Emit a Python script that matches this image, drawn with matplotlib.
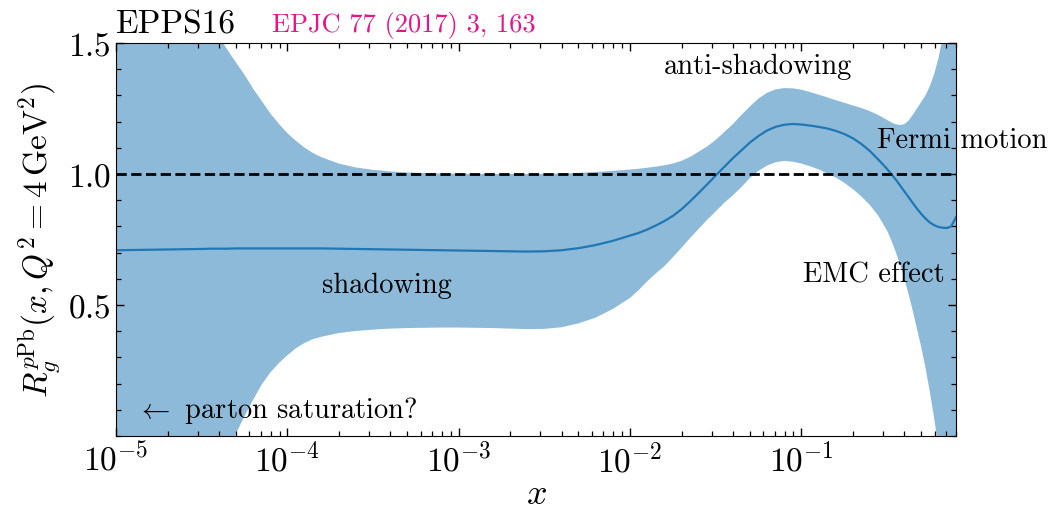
import numpy as np
import matplotlib
matplotlib.use('Agg')
import matplotlib.pyplot as plt
from matplotlib.ticker import MultipleLocator, LogLocator

plt.rcParams['font.family'] = 'serif'
plt.rcParams['font.serif'] = ['cmr10']
plt.rcParams['mathtext.fontset'] = 'cm'
plt.rcParams['axes.formatter.use_mathtext'] = True
plt.rcParams['axes.unicode_minus'] = False

# EPPS16 gluon nuclear modification for Pb at Q^2 = 4 GeV^2 (central + error band)
log_x = [-5.0, -4.9, -4.8, -4.7, -4.6, -4.5, -4.45, -4.4, -4.35, -4.3,
         -4.25, -4.2, -4.15, -4.1, -4.05, -4.0, -3.95, -3.9, -3.85, -3.8,
         -3.7, -3.6, -3.5, -3.4, -3.3, -3.2, -3.1, -3.0, -2.8, -2.6,
         -2.5, -2.4, -2.3, -2.2, -2.1, -2.0, -1.95, -1.9, -1.85, -1.8,
         -1.75, -1.7, -1.65, -1.6, -1.55, -1.5, -1.45, -1.4, -1.35, -1.3,
         -1.25, -1.2, -1.15, -1.1, -1.05, -1.0, -0.95, -0.9, -0.85, -0.8,
         -0.75, -0.7, -0.65, -0.6, -0.55, -0.5, -0.475, -0.45, -0.425, -0.4,
         -0.375, -0.35, -0.325, -0.3, -0.275, -0.25, -0.225, -0.2, -0.175, -0.15,
         -0.125, -0.097]
central = [0.709, 0.710, 0.711, 0.712, 0.713, 0.714, 0.715, 0.715, 0.715, 0.716,
           0.716, 0.716, 0.716, 0.716, 0.716, 0.716, 0.716, 0.716, 0.716, 0.716,
           0.715, 0.714, 0.713, 0.712, 0.711, 0.710, 0.709, 0.708, 0.706, 0.704,
           0.705, 0.709, 0.717, 0.729, 0.745, 0.765, 0.775, 0.788, 0.803, 0.820,
           0.840, 0.865, 0.895, 0.927, 0.960, 0.994, 1.027, 1.060, 1.090, 1.120,
           1.145, 1.166, 1.180, 1.188, 1.191, 1.189, 1.185, 1.180, 1.174, 1.165,
           1.153, 1.137, 1.115, 1.088, 1.055, 1.020, 1.000, 0.980, 0.958, 0.935,
           0.913, 0.890, 0.868, 0.848, 0.830, 0.815, 0.805, 0.798, 0.795, 0.794,
           0.800, 0.835]
upper = [2.50, 2.27, 2.07, 1.90, 1.75, 1.62, 1.577, 1.527, 1.474, 1.426,
         1.379, 1.326, 1.279, 1.232, 1.192, 1.156, 1.127, 1.101, 1.080, 1.064,
         1.040, 1.025, 1.016, 1.010, 1.006, 1.004, 1.002, 1.001, 1.000, 1.000,
         1.001, 1.002, 1.004, 1.008, 1.012, 1.017, 1.020, 1.024, 1.028, 1.033,
         1.040, 1.050, 1.065, 1.085, 1.105, 1.130, 1.160, 1.190, 1.225, 1.258,
         1.288, 1.310, 1.323, 1.328, 1.327, 1.322, 1.313, 1.303, 1.293, 1.282,
         1.272, 1.262, 1.252, 1.240, 1.225, 1.207, 1.197, 1.190, 1.187, 1.190,
         1.203, 1.225, 1.250, 1.275, 1.300, 1.335, 1.380, 1.440, 1.520, 1.610,
         1.720, 1.850]
lower = [-1.60, -1.35, -1.10, -0.85, -0.60, -0.37, -0.26, -0.16, -0.07, 0.009,
         0.076, 0.138, 0.196, 0.242, 0.278, 0.308, 0.335, 0.355, 0.370, 0.379,
         0.393, 0.401, 0.406, 0.410, 0.412, 0.413, 0.414, 0.414, 0.412, 0.408,
         0.409, 0.415, 0.430, 0.452, 0.485, 0.527, 0.556, 0.590, 0.620, 0.648,
         0.682, 0.718, 0.755, 0.790, 0.825, 0.857, 0.890, 0.918, 0.950, 0.985,
         1.012, 1.032, 1.045, 1.050, 1.047, 1.040, 1.030, 1.018, 1.003, 0.987,
         0.967, 0.943, 0.915, 0.882, 0.840, 0.785, 0.748, 0.705, 0.658, 0.605,
         0.545, 0.480, 0.410, 0.340, 0.260, 0.170, 0.070, -0.040, -0.160, -0.290,
         -0.430, -0.600]

x = 10.0 ** np.array(log_x)

fig = plt.figure(figsize=(10.51, 5.10), dpi=100)
ax = fig.add_subplot(111)
fig.subplots_adjust(left=0.1104, right=0.9096, top=0.9137, bottom=0.1431)

ax.fill_between(x, lower, upper, color='C0', alpha=0.5, lw=0)
ax.plot(x, central, color='C0', lw=1.6)
ax.axhline(1.0, color='k', ls='--', lw=2)

ax.set_xscale('log')
ax.set_xlim(1e-5, 0.8)
ax.set_ylim(0.0, 1.5)
ax.set_yticks([0.5, 1.0, 1.5])
ax.yaxis.set_minor_locator(MultipleLocator(0.1))
ax.xaxis.set_major_locator(LogLocator(base=10, numticks=10))
ax.xaxis.set_minor_locator(LogLocator(base=10, subs=np.arange(2, 10), numticks=20))

ax.tick_params(which='both', direction='in', top=True, right=True, labelsize=24)
ax.tick_params(which='major', length=6, width=1)
ax.tick_params(which='minor', length=3.5, width=0.9)

ax.set_xlabel(r'$x$', fontsize=26, labelpad=1)
ax.set_ylabel(r'$R_g^{p\mathrm{Pb}}(x, Q^2 = 4\,\mathrm{GeV}^2)$', fontsize=24)

ax.text(0.0, 1.028, 'EPPS16', transform=ax.transAxes, fontsize=24,
        ha='left', va='baseline')
ax.text(0.186, 1.031, 'EPJC 77 (2017) 3, 163', transform=ax.transAxes,
        fontsize=19, color='#e5148a', ha='left', va='baseline')

ax.text(3.8e-4, 0.548, 'shadowing', fontsize=20.5, ha='center', va='baseline')
ax.text(0.0561, 1.384, 'anti-shadowing', fontsize=20.5, ha='center', va='baseline')
ax.text(0.278, 1.103, 'Fermi motion', fontsize=20.5, ha='left', va='baseline',
        clip_on=False)
ax.text(0.1028, 0.589, 'EMC effect', fontsize=20.5, ha='left', va='baseline')
ax.text(1.33e-5, 0.072, r'$\leftarrow$ parton saturation?', fontsize=20.5,
        ha='left', va='baseline')

fig.savefig('out.png', dpi=100)
